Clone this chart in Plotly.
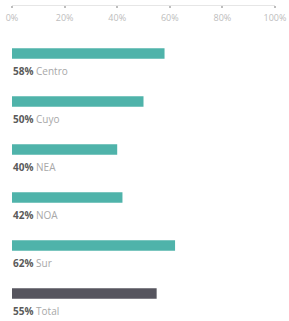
import plotly.graph_objects as go

categories = ["Centro", "Cuyo", "NEA", "NOA", "Sur", "Total"]
values = [58, 50, 40, 42, 62, 55]
colors = ["#4fb3aa", "#4fb3aa", "#4fb3aa", "#4fb3aa", "#4fb3aa", "#56555e"]
tick_vals = [0, 20, 40, 60, 80, 100]
tick_text = ["0%", "20%", "40%", "60%", "80%", "100%"]

fig = go.Figure()
fig.add_trace(go.Bar(
    x=values, y=categories, orientation="h",
    marker=dict(color=colors, line=dict(width=0)),
    width=0.22, hoverinfo="skip",
))

for c, v in zip(categories, values):
    fig.add_annotation(
        x=0, y=c, xref="x", yref="y", yshift=-17.5, xshift=-1,
        xanchor="left", yanchor="middle", showarrow=False,
        text=f"<b><span style='color:#5a5a5a'>{v}%</span></b> <span style='color:#a8a8a8'>{c}</span>",
        font=dict(family="Open Sans", size=10),
    )

fig.update_layout(
    width=289, height=321,
    margin=dict(l=12, r=14, t=0, b=3, autoexpand=False),
    paper_bgcolor="white", plot_bgcolor="white",
    showlegend=False,
    xaxis=dict(
        side="bottom", anchor="free", position=0.984,
        range=[0, 100], tickvals=tick_vals, ticktext=tick_text,
        showgrid=False, zeroline=False, automargin=False,
        showline=True, linecolor="#e6e6e6", linewidth=1,
        ticks="outside", ticklen=2, tickwidth=1.5, tickcolor="#bdbdbd",
        ticklabelstandoff=2,
        tickfont=dict(family="Open Sans", size=9, color="#bdbdbd"),
        fixedrange=True,
    ),
    yaxis=dict(
        type="category", categoryorder="array", categoryarray=categories,
        range=[5.51, -1.115], showticklabels=False, showgrid=False,
        zeroline=False, showline=False, ticks="", fixedrange=True,
        automargin=False,
    ),
)

fig.write_html(
    "out.html",
    config={"displayModeBar": False},
    post_script="document.body.style.margin='0';document.body.style.overflow='hidden';",
)
